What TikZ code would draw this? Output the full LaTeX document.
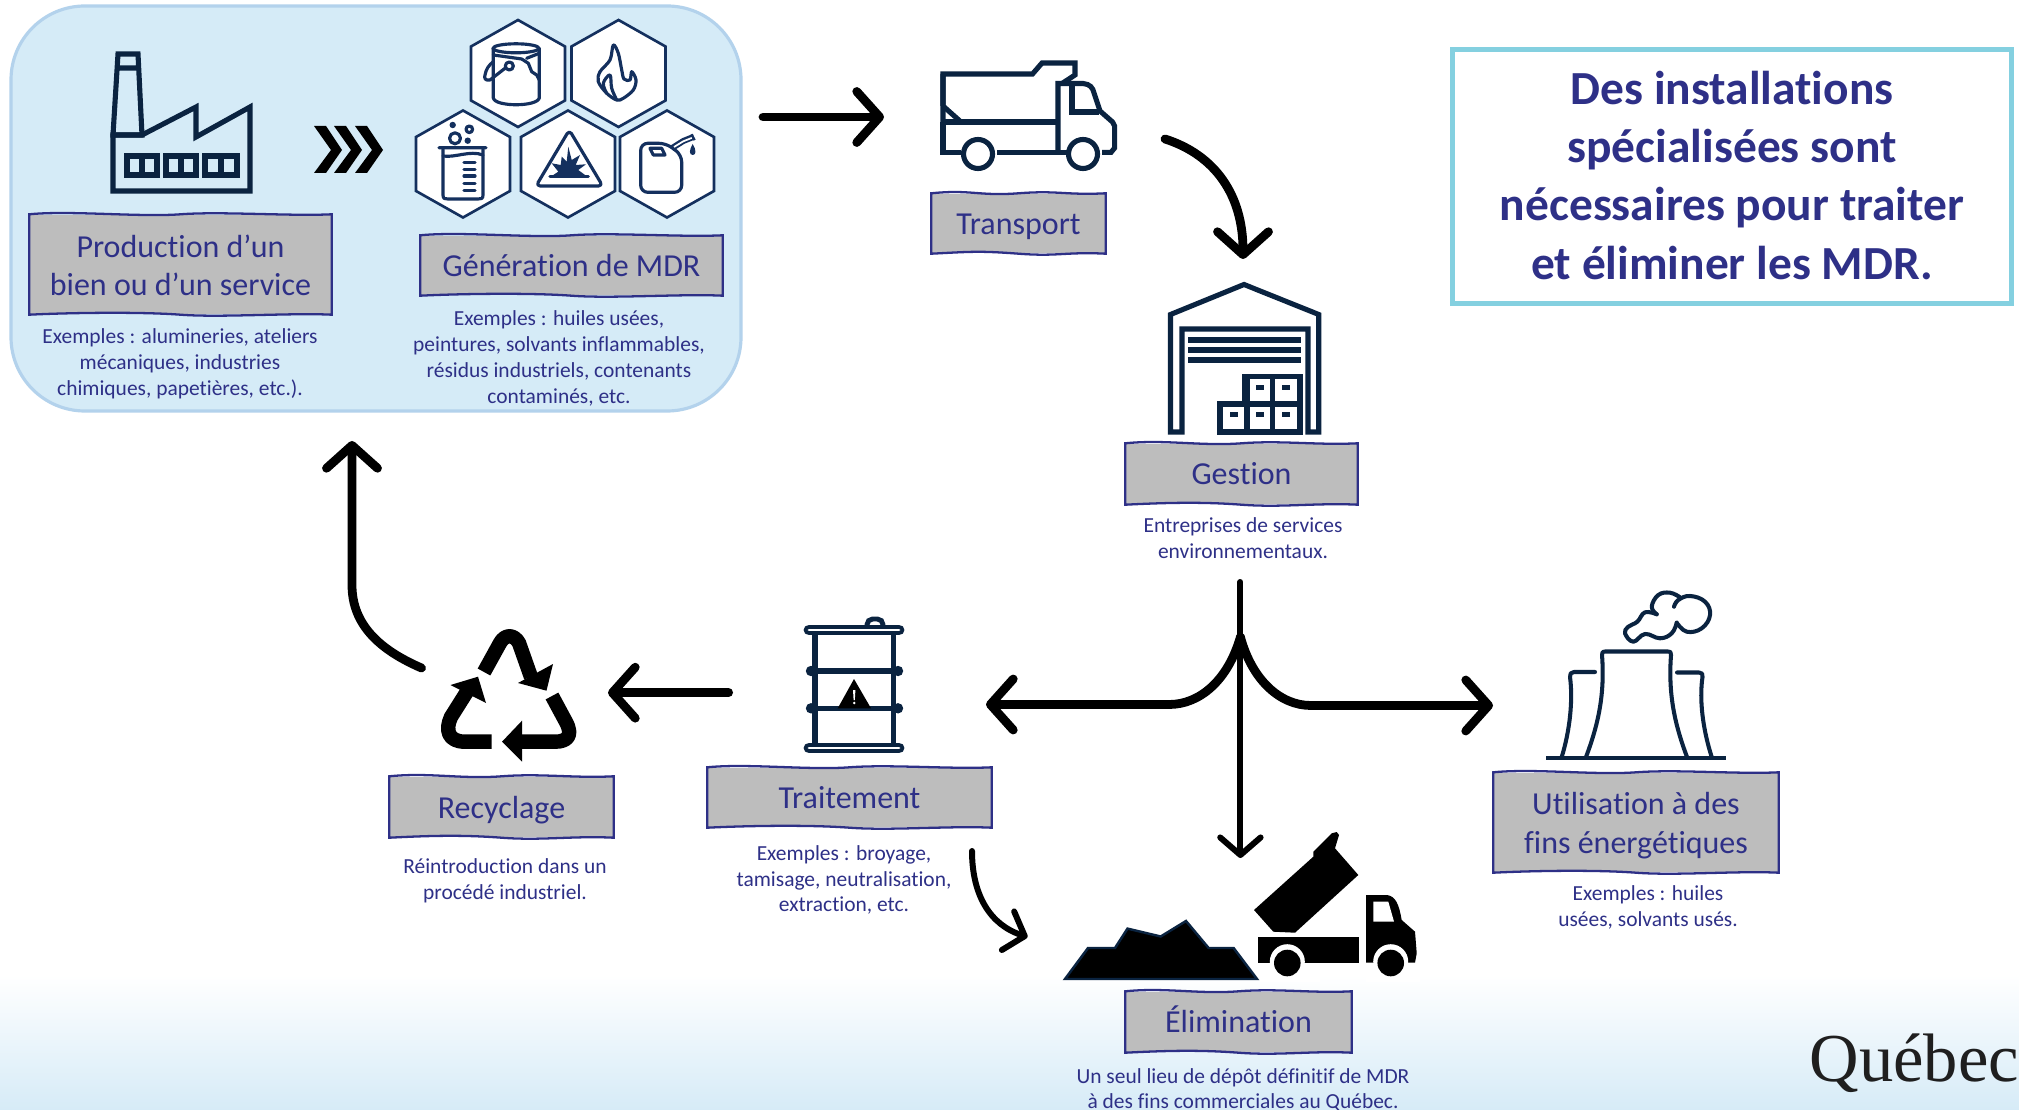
\documentclass[tikz,border=0pt]{standalone}
\usepackage{fontspec}
\setmainfont[Ligatures=NoCommon]{Carlito}
\newfontfamily\logofont{Liberation Serif}
\usetikzlibrary{arrows.meta,calc}
\definecolor{inkblue}{HTML}{2E3087}
\definecolor{labgray}{HTML}{BDBDBD}
\definecolor{icon}{HTML}{0A2340}
\definecolor{hexink}{HTML}{14305E}
\definecolor{panelfill}{HTML}{D5EBF7}
\definecolor{paneledge}{HTML}{B3D2EC}
\definecolor{titleedge}{HTML}{84D0E0}
\definecolor{fadeblue}{HTML}{D6EBF7}
\tikzset{
  labline/.style={draw=inkblue,line width=0.65pt},
  labfill/.style={fill=labgray,inner sep=0pt},
  labtext/.style={inner sep=0pt,text=inkblue,align=center,font=\fontsize{9.1}{10.9}\selectfont},
  body/.style={inner sep=0pt,text=inkblue,align=center,font=\fontsize{6.1}{7.35}\selectfont},
  ico/.style={draw=icon,line width=1.45pt,line join=miter,fill=none},
  towerline/.style={draw=icon,line width=1.15pt,line join=round,line cap=round,fill=none},
  thinico/.style={draw=hexink,line width=0.9pt,line join=round,line cap=round,fill=none},
  hexa/.style={draw=hexink,line width=0.75pt,fill=white},
  flow/.style={draw=black,line width=2.5pt,line cap=round,-{Straight Barb[length=6.5pt,width=14.5pt,round]}},
  flowthin/.style={draw=black,line width=1.7pt,line cap=round,-{Straight Barb[length=5pt,width=11.5pt,round]}},
  hexpic/.pic={\path[hexa] (0,-53.5) -- (47,-27) -- (47,27) -- (0,53.5) -- (-47,27) -- (-47,-27) -- cycle;}
}
\newcommand\wbox[7][0]{%
  \node[labfill,minimum width={(#5-#3)*0.01cm},minimum height={(#6-#4)*0.01cm}] (#2) at ({(#3+#5)/2},{(#4+#6)/2}) {};
  \path[labline] (#2.north west) .. controls +(40,-4) and +(-40,3) .. (#2.north)
     .. controls +(40,-3) and +(-40,2) .. (#2.north east) -- (#2.south east)
     .. controls +(-40,-2) and +(40,3) .. (#2.south)
     .. controls +(-40,-3) and +(40,-2) .. (#2.south west) -- cycle;
  \node[labtext] (#2t) at ({(#3+#5)/2},{(#4+#6)/2+#1}) {#7};
}
\newcommand\drumband[1]{%
  \draw[draw=icon,line width=1.5pt] (811,#1) -- (898,#1);
  \fill[icon] (811,#1) circle [radius=5.2] (898,#1) circle [radius=5.2];
}
\newcommand\drumrim[1]{%
  \draw[draw=icon,line width=3.1pt,line cap=round] (809,#1) -- (899,#1);
  \draw[draw=white,line width=0.8pt,line cap=round] (809,#1) -- (899,#1);
}
\begin{document}
\begin{tikzpicture}[x=0.01cm,y=-0.01cm]
\useasboundingbox (0,0) rectangle (2019,1110);
\fill[white] (0,0) rectangle (2019,1110);
\shade[top color=white,bottom color=fadeblue] (0,975) rectangle (2019,1110);

% panel
\path[fill=panelfill,draw=paneledge,line width=0.9pt,rounded corners=21pt] (11,6) rectangle (741,411);

% title
\node[draw=titleedge,line width=1.4pt,minimum width=5.58cm,minimum height=2.53cm,inner sep=0pt] (titlebox) at (1732,176.5) {};
\node[inner sep=0pt,text=inkblue,align=center,font=\fontsize{13.5}{16.5}\selectfont\bfseries] (title) at (1732,175.5)
  {Des installations\\spécialisées sont\\nécessaires pour traiter\\et éliminer les MDR.};

% factory
\path[ico] (118,54) -- (138,54) -- (142,135) -- (113,135) -- cycle (116,68) -- (140,68);
\path[ico] (113,135) -- (142,135) -- (196,107) -- (196,137) -- (250,107) -- (250,191) -- (113,191) -- cycle;
\foreach \xa/\xb in {127/157,166/196,205/237}{
  \path[ico] (\xa,156) rectangle (\xb,175) ({(\xa+\xb)/2},156) -- ({(\xa+\xb)/2},175);
}
% chevrons
\foreach \dx in {0,20,41}{
  \fill[black,shift={(\dx,0)}] (314,126) -- (326,126) -- (342,150) -- (326,173) -- (314,173) -- (331,150) -- cycle;
}
% hexagons
\path (518,73.5) pic {hexpic};
\path (618.5,73.5) pic {hexpic};
\path (463,164) pic {hexpic};
\path (568,164) pic {hexpic};
\path (667,164) pic {hexpic};
% paint can
\path[thinico] (516,48.3) ellipse [x radius=23,y radius=4.5];
\path[thinico] (493.3,48.3) -- (493.3,98) .. controls (495,107) and (537,107) .. (539.3,98) -- (539.3,48.3);
\path[thinico] (493.3,55) -- (521.7,59);
\path[thinico] (521.7,59) -- (528.3,63.3) -- (531.7,71.7) -- (536.7,75) -- (539.3,80);
\path[thinico] (526.7,58.3) -- (539.3,53.3);
\path[thinico] (509.3,66) circle [radius=4];
\path[thinico] (505,68.3) -- (490,80) .. controls (485,81) and (484,78) .. (485,75) .. controls (486,69) and (489,65) .. (493.3,61.7);
% flame
\draw[thinico] plot[smooth cycle,tension=0.55] coordinates {(613.3,45) (618.3,53.3) (621.7,70) (624,79) (630,80) (631.7,71.7) (636,80) (633.3,90) (623.3,98.3) (616.7,100) (606.7,93.3) (598.3,81.7) (600,71.7) (610,60)};
\draw[thinico] plot[smooth,tension=0.6] coordinates {(616.7,100) (611.7,88.3) (610,75) (603.3,83.3) (606.7,93.3)};
% beaker
\path[thinico] (439,147.7) -- (486,147.7) (443,150) -- (443,195) .. controls (443,199) and (445,199) .. (448,199) -- (478,199) .. controls (481,199) and (483,199) .. (483,195) -- (483,150);
\path[thinico] (443,156) .. controls (455,158) and (470,150) .. (483,155);
\foreach \yy in {162.3,169.3,176,183.3,190.7}{\path[thinico] (464,\yy) -- (475,\yy);}
\fill[hexink] (452.7,125) circle [radius=3.2];
\path[thinico] (469.3,129.3) circle [radius=3.3];
\path[thinico] (455,138.3) circle [radius=5.5];
\fill[hexink] (467.7,140.7) circle [radius=3.2];
% warning triangle
\path[thinico,rounded corners=1.2pt] (569.3,130) -- (602.7,186) -- (536,186) -- cycle;
\path[thinico] (550,176.7) -- (588.3,176.7);
\fill[hexink] (553.3,175) -- (558.3,171.7) -- (551.7,163.3) -- (560.7,165) -- (561.7,156.7) -- (566.7,161.7) -- (568.3,146.7) -- (571.7,160) -- (580,155) -- (575.7,165) -- (586,164.3) -- (578.3,170) -- (585,175) -- cycle;
% jerrycan
\path[thinico,rounded corners=2pt] (640.7,143.3) -- (666,143.3) -- (681.7,155) -- (681.7,192.3) -- (640.7,192.3) -- cycle;
\path[thinico] (650,148.3) -- (661.7,148.3) -- (665,155) -- (653.3,155) -- cycle;
\path[draw=hexink,line width=1.7pt] (671.7,148.3) -- (683.3,141) -- (694,136.7);
\path[draw=white,line width=0.5pt] (674,147) -- (683.3,141.3) -- (692,137.8);
\path[draw=hexink,line width=1.9pt] (692,137.8) -- (694,136.7);
\fill[hexink] (692.7,144) .. controls (689,150) and (689,155) .. (692.7,155) .. controls (696.4,155) and (696.4,150) .. (692.7,144) -- cycle;

% labels
\wbox[1]{prod}{30}{215}{331}{314}{Production d’un\\bien ou d’un service}
\wbox{gen}{421}{236}{722}{295}{Génération de MDR}
\wbox[3.5]{trans}{932}{194}{1105}{253}{Transport}
\wbox{gest}{1126}{444}{1357}{504}{Gestion}
\wbox[3.5]{recy}{390}{777}{613}{837}{Recyclage}
\wbox{trait}{708}{768}{991}{827}{Traitement}
\wbox[3]{util}{1494}{773}{1778}{872}{Utilisation à des\\fins énergétiques}
\wbox[-3]{elim}{1126}{992}{1351}{1052}{Élimination}

% body texts
\node[body] (prodx) at (180,363.5) {Exemples : alumineries, ateliers\\mécaniques, industries\\chimiques, papetières, etc.).};
\node[body] (genx) at (559,358.5) {Exemples : huiles usées,\\peintures, solvants inflammables,\\résidus industriels, contenants\\contaminés, etc.};
\node[body] (gestx) at (1243,538) {Entreprises de services\\environnementaux.};
\node[body] (recyx) at (505,881) {Réintroduction dans un\\procédé industriel.};
\node[body] (traitx) at (844,880) {Exemples : broyage,\\tamisage, neutralisation,\\extraction, etc.};
\node[body] (utilx) at (1648,907) {Exemples : huiles\\usées, solvants usés.};
\node[body] (elimx) at (1243,1090) {Un seul lieu de dépôt définitif de MDR\\à des fins commerciales au Québec.};

% truck
\path[ico] (943,122) -- (943,74) -- (1032.5,74) -- (1042,63) -- (1075,63) -- (1075,75) -- (1062,83.5);
\path[ico] (943,106) -- (961,122) (943,74) -- (943,106);
\path[ico] (943,122) -- (1058,122);
\path[ico] (961,152.4) -- (943,152.4) -- (943,122);
\path[ico] (997,152.4) -- (1067,152.4);
\path[ico] (1058,152.4) -- (1058,83.5) -- (1083,83.5) .. controls (1090,84) and (1093,88) .. (1094,93) -- (1100,111) -- (1112.5,122) -- (1114.6,126) -- (1114.6,148) -- (1111,152.4) -- (1102,152.4);
\path[ico] (1072,85) -- (1072,112) -- (1099,112);
\path[ico] (978,154) circle [radius=14.5];
\path[ico] (1083,154) circle [radius=14.5];

% warehouse
\path[ico] (1170.5,432) -- (1170.5,314.5) -- (1244,284.5) -- (1318.7,314.5) -- (1318.7,432) -- (1308,432) -- (1308,329) -- (1182,329) -- (1182,432) -- cycle;
\foreach \yy in {340,350,360}{\path[ico] (1188,\yy) -- (1300.6,\yy);}
\path[ico] (1220,432) rectangle (1300,404);
\path[ico] (1245,404) rectangle (1300,376.5);
\path[ico] (1247,376.5) -- (1247,432) (1272.5,376.5) -- (1272.5,432);
\foreach \xx/\yy in {1230/412,1256/412,1282/412,1256/385,1282/385}{\fill[icon] (\xx,\yy) rectangle +(8,5);}

% drum
\path[draw=icon,line width=1.4pt,rounded corners=1.6pt] (867,627) -- (867,619) -- (883,619) -- (883,627);
\draw[draw=icon,line width=1.5pt] (815,634) -- (815,745) (893.3,634) -- (893.3,745);
\drumrim{630}
\drumrim{748}
\drumband{671}
\drumband{708.3}
\fill[black] (854,679) -- (871,708.3) -- (837.7,708.3) -- cycle;
\fill[white] (853,690) -- (855.4,690) -- (854.8,700) -- (853.6,700) -- cycle;
\fill[white] (854.2,703) circle [radius=1.3];

% recycle
\begin{scope}[line width=4.1pt,line join=round]
  \draw[draw=black] (484,672) -- (500,643) .. controls (505,634) and (514,634) .. (519,643) -- (531,677);
  \draw[draw=black] (552,696) -- (566,722) .. controls (573,735) and (568,741.7) .. (555,741.7) -- (522,741.7);
  \draw[draw=black] (491.6,741.7) -- (465,741.7) .. controls (448,741.7) and (445,730) .. (451,717) -- (468,690);
\end{scope}
\fill[black] (546.5,690.7) -- (553,664) -- (518,683) -- cycle;
\fill[black] (502,741.7) -- (522,720.7) -- (522,761.7) -- cycle;
\fill[black] (478,676.7) -- (450.5,685) -- (486,703) -- cycle;

% cooling tower
\path[draw=icon,line width=1.4pt] (1546,758) -- (1726,758);
\path[towerline] (1586,757) .. controls (1598,725) and (1605,695) .. (1602,655) .. controls (1601.5,652) and (1603,651.5) .. (1605,651.5) -- (1668,651.5) .. controls (1670,651.5) and (1671.5,652) .. (1671,655) .. controls (1668,695) and (1675,725) .. (1687,757);
\path[towerline] (1595,672) -- (1574,672) .. controls (1571,672) and (1569.5,674) .. (1570,677) .. controls (1573,700) and (1570,730) .. (1561.7,757);
\path[towerline] (1677,672.5) -- (1699,672.5) .. controls (1702,672.5) and (1703,674) .. (1702.5,677) .. controls (1699,700) and (1703,730) .. (1711.7,757);
\draw[towerline] plot[smooth,tension=0.7] coordinates {(1656.7,614.3) (1645,612.3) (1637.3,621.7) (1628.3,626.7) (1625,633.3) (1633.3,641.7) (1645,634) (1660,638.3) (1671.7,633.3) (1676.7,622.7)};
\draw[towerline] plot[smooth,tension=0.7] coordinates {(1676.7,622.7) (1686.7,631.7) (1701.7,628.3) (1710,615) (1705,601.7) (1690,596) (1678.3,600) (1674,606.7)};
\draw[towerline] plot[smooth,tension=0.7] coordinates {(1680,597.3) (1670,592.7) (1658.3,595) (1651.7,606.7) (1656.7,614.3)};

% pile
\path[fill=black,draw=icon,line width=0.7pt] (1065,979) -- (1088,948) -- (1115,948) -- (1127.5,928.6) -- (1160.7,936.5) -- (1186,921) -- (1208.6,948) -- (1233.6,948) -- (1257,979) -- cycle;

% dump truck
\fill[black] (1336.7,832) -- (1339,835) -- (1335,848.3) -- (1358.3,875) -- (1295,932.7) -- (1273.3,931.7) -- (1254,910) -- (1313.3,856.7) -- (1313.3,851.7) -- (1331.7,833.3) -- cycle;
\fill[black] (1258.3,936.7) rectangle (1359.3,962.7);
\fill[black] (1366,962.7) -- (1366,895) -- (1386.7,895) .. controls (1396,896) and (1399,905) .. (1401.7,920) -- (1415,931.7) -- (1416.7,953.3) -- (1415,962.7) -- cycle;
\fill[white] (1373.3,901.7) -- (1388.3,901.7) -- (1394,921.7) -- (1373.3,921.7) -- cycle;
\fill[white] (1287.3,961.7) circle [radius=17.5] (1390.7,961.7) circle [radius=17.5];
\fill[white] (1260,962.7) rectangle (1320,982);
\fill[white] (1366,962.7) rectangle (1420,982);
\fill[black] (1287.3,963) circle [radius=13.3];
\fill[black] (1390.7,963) circle [radius=13.3];

% Quebec logo
\node[anchor=base west,inner sep=0pt,text=black!88,font=\fontsize{19.5}{20}\selectfont\logofont] (logo) at (1809,1081) {Québec};

% connector ends
\coordinate (a1s) at (763,117);   \coordinate (a1e) at (884,117);
\coordinate (a2s) at (1165,139);  \coordinate (a2e) at (1243,259);
\coordinate (hub) at (1240.4,637);
\coordinate (trunk) at (1240.4,582); \coordinate (downe) at (1240.4,858);
\coordinate (lefte) at (986,704.5); \coordinate (righte) at (1493,705.5);
\coordinate (a6s) at (728.6,692.7); \coordinate (a6e) at (608,692.7);
\coordinate (a7s) at (421.5,668); \coordinate (a7e) at (352,441);
\coordinate (a8s) at (972,851); \coordinate (a8e) at (1027.6,937);

\draw[flow] (a1s) -- (a1e);
\draw[flow] (a2s) .. controls (1215,155) and (1243,195) .. (a2e);
\draw[flowthin] (trunk) -- (downe);
\draw[flow] (hub) .. controls (1228,680) and (1200,704.5) .. (1169,704.5) -- (lefte);
\draw[flow] (hub) .. controls (1252,680) and (1280,705.5) .. (1311,705.5) -- (righte);
\draw[flow] (a6s) -- (a6e);
\draw[flow] (a7s) .. controls (380,650) and (352,625) .. (352,585) -- (a7e);
\draw[flowthin] (a8s) .. controls (972,895) and (990,925) .. (a8e);
\end{tikzpicture}
\end{document}
